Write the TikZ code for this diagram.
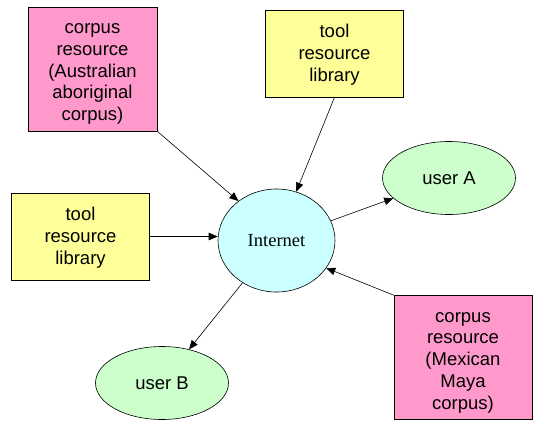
\documentclass[tikz,border=0pt]{standalone}
\usepackage{fontspec}
\setmainfont{Liberation Sans}
\newfontfamily\timesfont{Liberation Serif}
\usetikzlibrary{positioning}
\usetikzlibrary{shapes.geometric}
\usetikzlibrary{arrows.meta}

\begin{document}
\begin{tikzpicture}[x=1pt,y=-1pt,
	corpusbox/.style={draw, line width=0.6pt, fill={rgb,255:red,255;green,153;blue,204}, inner sep=0pt, align=center, text height=103pt, text depth=0pt, font=\fontsize{18.5}{21.75}\selectfont},
	toolbox/.style={draw, line width=0.6pt, fill={rgb,255:red,255;green,255;blue,153}, inner sep=0pt, minimum width=138pt, minimum height=87pt, align=center, text height=55.5pt, text depth=0pt, font=\fontsize{18.5}{21.75}\selectfont},
	userell/.style={draw, ellipse, line width=0.6pt, fill={rgb,255:red,204;green,255;blue,204}, inner sep=0pt, minimum width=133pt, minimum height=73pt, font=\fontsize{18.5}{21.75}\selectfont},
	arr/.style={line width=0.6pt, -{Triangle[length=9pt,width=7.5pt]}}]
	
	\useasboundingbox (0,0) rectangle (545,434);
	
	\node [corpusbox, minimum width=129pt, minimum height=124pt] at (92.5,69) (corpAU) {corpus\\resource\\(Australian\\aboriginal\\corpus)};
	\node [toolbox] at (334.5,53.5) (toolTop) {tool\\resource\\library};
	\node [toolbox] at (80.5,236.5) (toolLeft) {tool\\resource\\library};
	\node [corpusbox, minimum width=138pt, minimum height=124pt] at (463,357.5) (corpMX) {corpus\\resource\\(Mexican\\Maya\\corpus)};
	
	\node [draw, ellipse, line width=0.6pt, fill={rgb,255:red,204;green,255;blue,255}, inner sep=0pt, minimum width=117pt, minimum height=103pt, font=\timesfont\fontsize{18.5}{21.75}\selectfont] at (276.5,240.5) (internet) {Internet};
	\node [userell] at (449,178) (userA) {user A};
	\node [userell] at (162,383) (userB) {user B};
	
	\draw [arr] (corpAU.south east) -- (internet.134);
	\draw [arr] (toolTop.south) -- (internet.68);
	\draw [arr] (toolLeft.east) -- (toolLeft.east -| internet.west);
	\draw [arr] (corpMX.north west) -- (internet.331);
	
	\draw [arr] (internet) -- (userA);
	\draw [arr] (internet) -- (userB);
	
\end{tikzpicture}
\end{document}
